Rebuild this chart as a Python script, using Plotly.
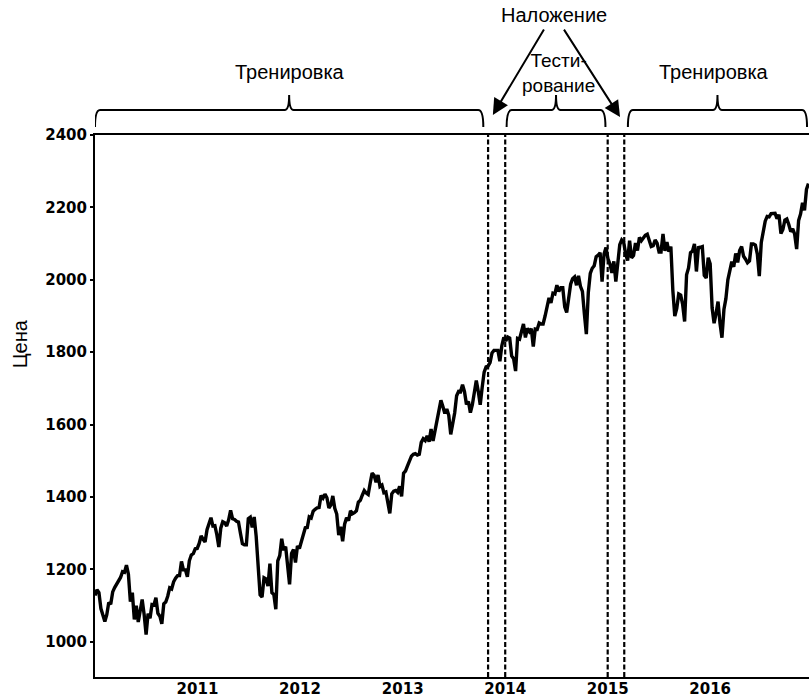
import pandas as pd
import plotly.graph_objects as go

# ---------------- data (weekly closes) ----------------
start_date = "2010-01-01"

prices_2010 = [1128, 1144, 1136, 1092, 1074, 1056, 1075, 1109, 1104, 1138, 1150, 1160, 1167,
               1178, 1194, 1192, 1212, 1187, 1111, 1136, 1062, 1100, 1055, 1092, 1117, 1076,
               1020, 1078, 1065, 1103, 1102, 1122, 1079, 1071, 1050, 1105, 1110, 1126, 1149,
               1146, 1166, 1176, 1183, 1183, 1222, 1199, 1199, 1180, 1224, 1240, 1244, 1257, 1258]
prices_2011 = [1272, 1293, 1283, 1276, 1310, 1329, 1343, 1320, 1321, 1296, 1262, 1314,
               1332, 1329, 1320, 1337, 1363, 1340, 1338, 1333, 1331, 1300, 1271, 1268, 1268,
               1340, 1344, 1316, 1345, 1292, 1199, 1130, 1124, 1177, 1174, 1154, 1216, 1136, 1131,
               1090, 1224, 1238, 1285, 1253, 1263, 1216, 1159, 1244, 1255, 1219, 1265, 1258]
prices_2012 = [1278, 1289, 1315, 1316, 1345, 1342, 1361, 1366, 1370, 1371, 1404, 1397, 1408,
               1398, 1370, 1378, 1403, 1369, 1353, 1295, 1318, 1278, 1325, 1343, 1335, 1362,
               1354, 1357, 1362, 1386, 1391, 1405, 1418, 1411, 1407, 1438, 1466, 1460, 1441,
               1461, 1429, 1433, 1412, 1414, 1380, 1355, 1409, 1416, 1418, 1413, 1430, 1402]
prices_2013 = [1466, 1472, 1486, 1503, 1513, 1518, 1520, 1516, 1518, 1551, 1561, 1556, 1569,
               1553, 1588, 1555, 1582, 1614, 1633, 1667, 1650, 1631, 1643, 1626, 1573, 1606,
               1632, 1680, 1692, 1691, 1710, 1691, 1656, 1664, 1633, 1655, 1688, 1722, 1692,
               1655, 1703, 1745, 1760, 1762, 1771, 1798, 1805, 1806, 1805, 1775, 1818, 1841]
prices_2014 = [1831, 1842, 1839, 1790, 1782, 1748, 1838, 1836, 1859, 1878, 1841, 1866, 1857,
               1865, 1816, 1864, 1863, 1881, 1878, 1878, 1900, 1924, 1950, 1936, 1963, 1961,
               1985, 1968, 1978, 1978, 1925, 1910, 1955, 1988, 2003, 2008, 1985, 2011, 1982,
               1968, 1906, 1850, 1965, 2018, 2032, 2039, 2064, 2068, 2075, 1995, 2071, 2089]
prices_2015 = [2058, 2044, 2019, 2051, 1995, 2055, 2097, 2110, 2104, 2071, 2053, 2108, 2061,
               2067, 2102, 2081, 2117, 2108, 2116, 2123, 2126, 2107, 2092, 2094, 2110, 2101,
               2077, 2077, 2127, 2080, 2104, 2078, 2092, 1971, 1900, 1921, 1961, 1958, 1932,
               1885, 2014, 2033, 2075, 2079, 2099, 2023, 2089, 2090, 2092, 2012, 2005, 2061]
prices_2016 = [2044, 1922, 1880, 1907, 1940, 1880, 1840, 1918, 1948, 2000, 2022, 2050, 2036,
               2073, 2048, 2081, 2092, 2065, 2057, 2047, 2052, 2099, 2099, 2096, 2071, 2010,
               2103, 2130, 2162, 2175, 2174, 2183, 2184, 2184, 2169, 2180, 2128, 2139, 2165,
               2168, 2153, 2133, 2141, 2126, 2085, 2164, 2182, 2213, 2192, 2250, 2266]

year_tick_dates = ["2011-01-01", "2012-01-01", "2013-01-01", "2014-01-01", "2015-01-01", "2016-01-01"]
year_tick_labels = ["2011", "2012", "2013", "2014", "2015", "2016"]
price_ticks = [1000, 1200, 1400, 1600, 1800, 2000, 2200, 2400]

# boundaries of train / overlap / test / overlap / train
split_dates = ["2013-11-01", "2014-01-01", "2015-01-01", "2015-03-01"]

label_train = "Тренировка"
label_test = "Тести-<br>рование"
label_overlap = "Наложение"
label_y = "Цена"

prices = prices_2010 + prices_2011 + prices_2012 + prices_2013 + prices_2014 + prices_2015 + prices_2016
dates = pd.date_range(start_date, periods=len(prices), freq="W-FRI")

x_start = pd.Timestamp("2010-01-01")
x_end = pd.Timestamp("2016-12-18")

fig = go.Figure()
fig.add_trace(go.Scatter(x=dates, y=prices, mode="lines",
                         line=dict(color="black", width=3.4), hoverinfo="skip", showlegend=False))

# dashed split lines
shapes = []
for d in split_dates:
    shapes.append(dict(type="line", xref="x", yref="paper", x0=d, x1=d, y0=0, y1=1,
                       line=dict(color="black", width=2.2, dash="5px,2.5px"), layer="above"))

# curly braces above the plot
def fmt(t):
    return pd.Timestamp(t).strftime("%Y-%m-%d_%H:%M")

def brace(x0, x1, yb=1.0148, ym=1.046, yt=1.0738, r_days=18, c_days=16):
    x0 = pd.Timestamp(x0)
    x1 = pd.Timestamp(x1)
    xc = x0 + (x1 - x0) / 2
    r = pd.Timedelta(days=r_days)
    c = pd.Timedelta(days=c_days)
    p = (f"M {fmt(x0)},{yb} Q {fmt(x0)},{ym} {fmt(x0 + r)},{ym} "
         f"L {fmt(xc - c)},{ym} Q {fmt(xc)},{ym} {fmt(xc)},{yt} "
         f"Q {fmt(xc)},{ym} {fmt(xc + c)},{ym} "
         f"L {fmt(x1 - r)},{ym} Q {fmt(x1)},{ym} {fmt(x1)},{yb}")
    return dict(type="path", xref="x", yref="paper", path=p,
                line=dict(color="black", width=2), layer="above")

shapes.append(brace("2010-01-01", "2013-10-15"))
shapes.append(brace("2014-01-06", "2014-12-24"))
shapes.append(brace("2015-03-14", "2016-12-11"))

txt_font = dict(family="Liberation Sans, Arial, sans-serif", size=20, color="black")
annotations = [
    dict(x="2011-11-27", y=1.116, xref="x", yref="paper", text=label_train, showarrow=False,
         font=txt_font, xanchor="center", yanchor="middle"),
    dict(x="2016-01-16", y=1.116, xref="x", yref="paper", text=label_train, showarrow=False,
         font=txt_font, xanchor="center", yanchor="middle"),
    dict(x="2014-06-22", y=1.221, xref="x", yref="paper", text=label_overlap, showarrow=False,
         font=txt_font, xanchor="center", yanchor="middle"),
    dict(x="2014-07-10", y=1.114, xref="x", yref="paper", text=label_test, showarrow=False,
         font=dict(family="Liberation Sans Narrow, Liberation Sans, Arial", size=19, color="black"),
         xanchor="center", yanchor="middle"),
    dict(x="2013-11-18", y=1.037, xref="x", yref="paper", text="", showarrow=True,
         ax=52, ay=-87, arrowhead=2, arrowsize=1.6, arrowwidth=2, arrowcolor="black"),
    dict(x="2015-02-14", y=1.033, xref="x", yref="paper", text="", showarrow=True,
         ax=-57, ay=-89, arrowhead=2, arrowsize=1.6, arrowwidth=2, arrowcolor="black"),
    dict(x=-0.105, y=0.614, xref="paper", yref="paper", text=label_y, showarrow=False,
         textangle=-90, font=txt_font, xanchor="center", yanchor="middle"),
]

tick_font = dict(family="DejaVu Sans, sans-serif", size=15, color="black", weight="bold")

fig.update_layout(
    width=809, height=699,
    margin=dict(l=95, r=0, t=135, b=22, autoexpand=False),
    paper_bgcolor="white", plot_bgcolor="white",
    shapes=shapes, annotations=annotations,
    xaxis=dict(range=[x_start, x_end], tickvals=year_tick_dates, ticktext=year_tick_labels,
               showgrid=False, zeroline=False, showline=True, linecolor="black", linewidth=2,
               mirror=True, ticks="", tickfont=tick_font, automargin=False,
               ticklabelstandoff=-3),
    yaxis=dict(range=[903, 2400], tickvals=price_ticks, showgrid=False, zeroline=False,
               showline=True, linecolor="black", linewidth=2, ticks="outside", ticklen=3,
               tickwidth=1.5, tickcolor="black", tickfont=tick_font, automargin=False),
)

fig.write_html(
    "out.html",
    config={"displayModeBar": False},
    post_script="document.body.style.margin='0';document.body.style.padding='0';"
                "document.body.style.overflow='hidden';",
)
